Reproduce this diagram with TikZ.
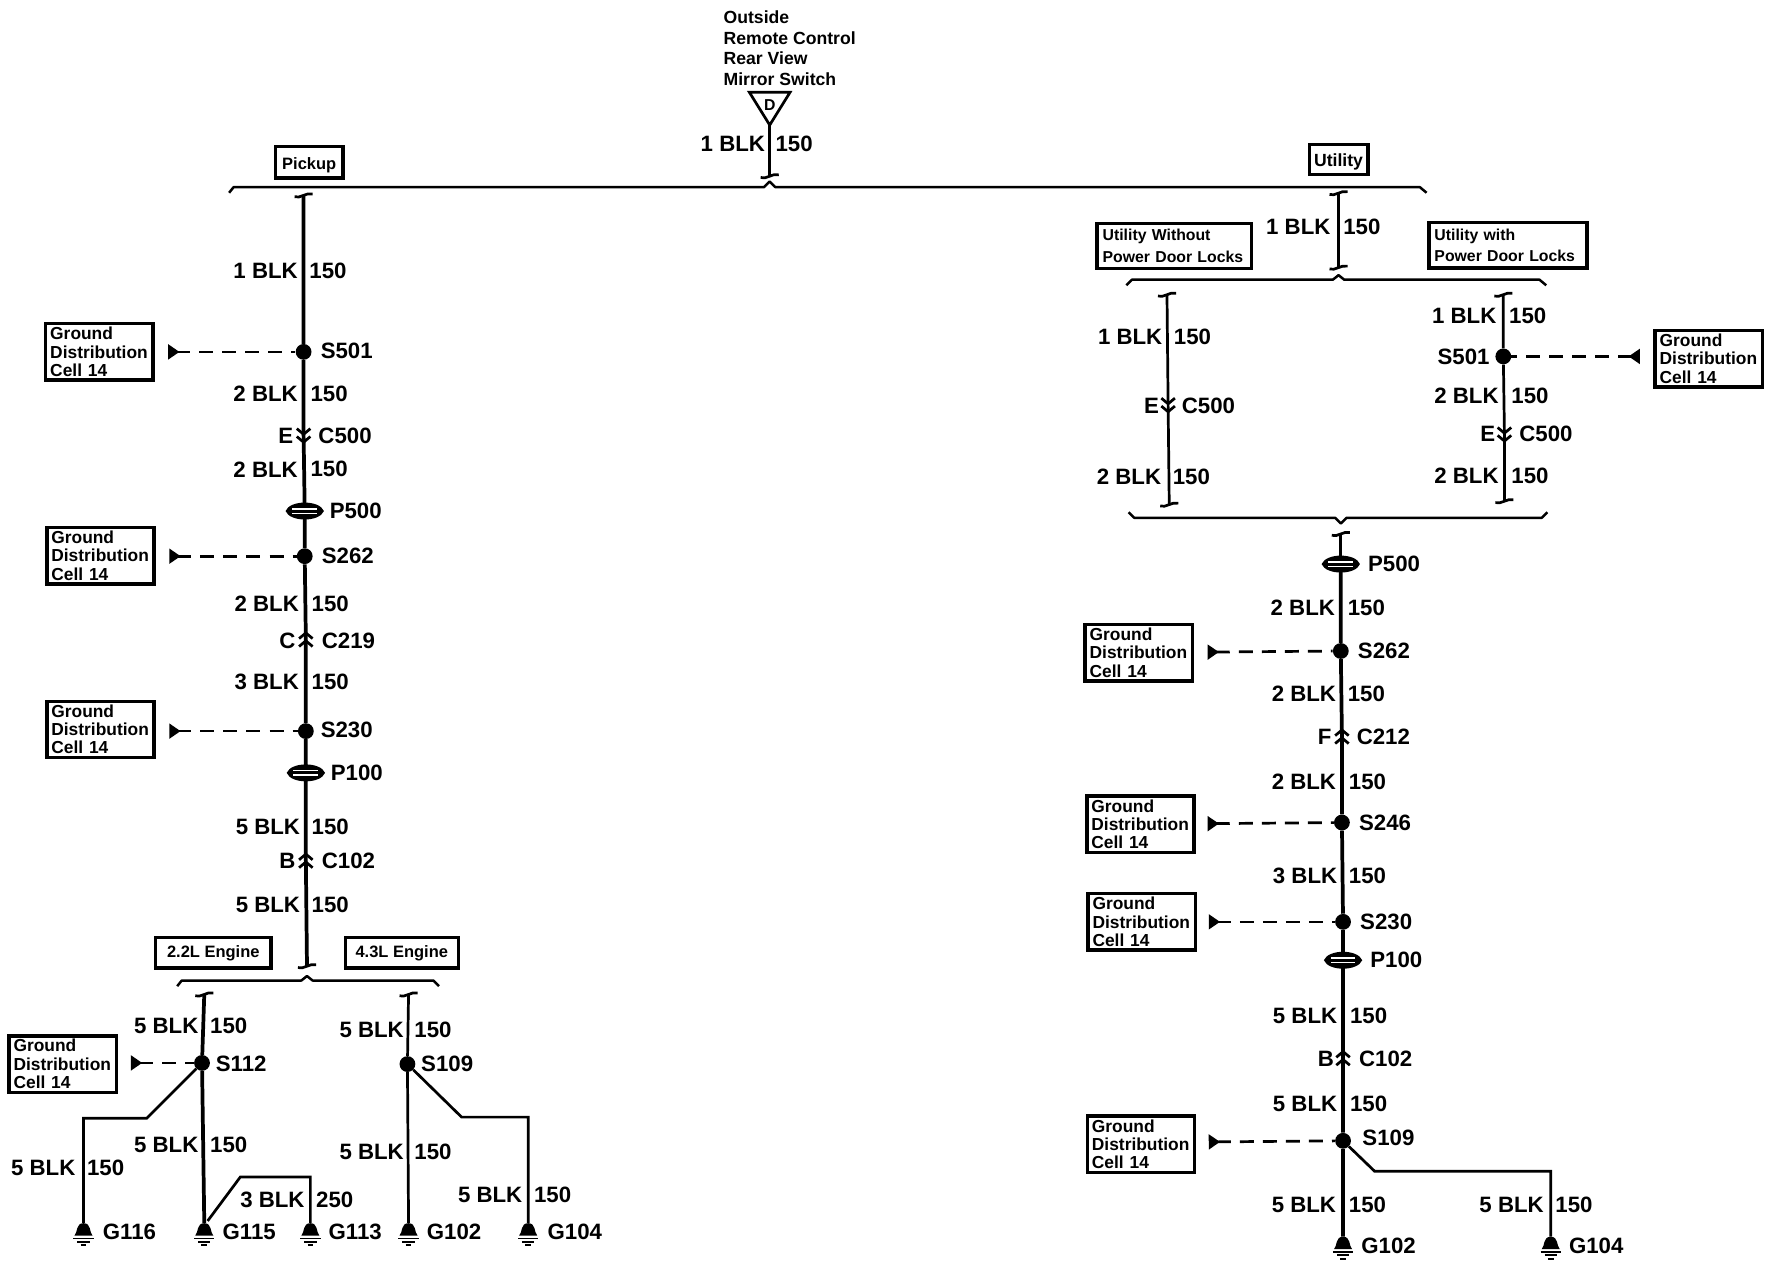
\documentclass[tikz,border=0pt]{standalone}
\usepackage{fontspec}
\setmainfont{Liberation Sans}
\usetikzlibrary{arrows.meta}
\tikzset{
wire/.style={line width=2.4pt},
trunk/.style={line width=3.3pt},
bus/.style={line width=2.2pt,line join=round},
rlab/.style={anchor=east,inner sep=0pt,font=\fontsize{19.7}{22}\selectfont\bfseries},
llab/.style={anchor=west,inner sep=0pt,font=\fontsize{19.7}{22}\selectfont\bfseries},
splice/.style={circle,fill=black,minimum size=14pt,inner sep=0pt},
tagbox/.style={draw,line width=3pt,inner sep=0pt,font=\fontsize{14.6}{16}\selectfont\bfseries},
gndbox/.style={draw,line width=3pt,inner xsep=4pt,inner ysep=0pt,minimum height=50pt,text width=87pt,align=left,font=\fontsize{15.4}{16.2}\selectfont\bfseries},
lockbox/.style={draw,line width=3pt,inner xsep=4pt,inner ysep=0pt,minimum height=40pt,align=left,font=\fontsize{14}{19}\selectfont\bfseries},
gndlink/.style={line width=2.4pt,dash pattern=on 12.4pt off 8pt,{Triangle[reversed,length=10pt,width=13pt]}-}
}
\newcommand{\hookcap}[1]{\draw[wire] ([shift={(-8,1.5)}]#1) .. controls ([shift={(-3,3.5)}]#1) and ([shift={(2,-2.5)}]#1) .. ([shift={(8,-1)}]#1);}
\newcommand{\chevdn}[1]{\draw[wire] ([shift={(-6,-6)}]#1) -- ([shift={(0,-1)}]#1) -- ([shift={(6,-6)}]#1);\draw[wire] ([shift={(-6,1)}]#1) -- ([shift={(0,6)}]#1) -- ([shift={(6,1)}]#1);}
\newcommand{\chevup}[1]{\draw[wire] ([shift={(-6,6)}]#1) -- ([shift={(0,1)}]#1) -- ([shift={(6,6)}]#1);\draw[wire] ([shift={(-6,-1)}]#1) -- ([shift={(0,-6)}]#1) -- ([shift={(6,-1)}]#1);}
\newcommand{\pshape}[1]{\fill ([shift={(-17,0)}]#1) .. controls ([shift={(-13,-10)}]#1) and ([shift={(13,-10)}]#1) .. ([shift={(17,0)}]#1) .. controls ([shift={(13,10)}]#1) and ([shift={(-13,10)}]#1) .. ([shift={(-17,0)}]#1);\fill[white] ([shift={(-11,-2.6)}]#1) rectangle ([shift={(11,-1.3)}]#1);\fill[white] ([shift={(-11,1.3)}]#1) rectangle ([shift={(11,2.6)}]#1);}
\newcommand{\gndbell}[1]{\fill ([shift={(-8,11)}]#1) .. controls ([shift={(-5,8)}]#1) and ([shift={(-7,0)}]#1) .. ([shift={(0,0)}]#1) .. controls ([shift={(7,0)}]#1) and ([shift={(5,8)}]#1) .. ([shift={(8,11)}]#1) -- cycle;
\draw[line width=1.6pt] ([shift={(-9,13.5)}]#1) -- ([shift={(9,13.5)}]#1);\draw[line width=1.6pt] ([shift={(-5.5,16.5)}]#1) -- ([shift={(5.5,16.5)}]#1);\draw[line width=1.6pt] ([shift={(-2.5,19.5)}]#1) -- ([shift={(2.5,19.5)}]#1);}
\begin{document}
\begin{tikzpicture}[x=1pt,y=-1pt]
\useasboundingbox (0,-0.8) rectangle (1568.3,1133.3);

% switch at the top
\node[anchor=west,inner sep=0pt,align=left,font=\fontsize{15.6}{18.3}\selectfont\bfseries] (mirror) at (641,42) {Outside\\Remote Control\\Rear View\\Mirror Switch};
\coordinate (triA) at (664,81);\coordinate (triB) at (700,81);\coordinate (triC) at (682,110);\coordinate (topEnd) at (682,155);
\draw[wire,line join=miter] (triA) -- (triB) -- (triC) -- cycle;
\node[inner sep=0pt,font=\fontsize{14}{16}\selectfont\bfseries] (pinD) at (682,92) {D};
\draw[wire] (triC) -- (topEnd);\hookcap{topEnd}
\node[rlab] (t1) at (678,127) {1 BLK};\node[llab] (t2) at (687,127) {150};
\draw[bus] (203,170) -- (207,165) -- (677,165) -- (682,160) -- (687,165) -- (1258,165) -- (1264,170);
\node[tagbox,minimum width=60pt,minimum height=28pt,text height=14pt,text depth=2pt] (pickup) at (274,143) {Pickup};
\node[tagbox,minimum width=52pt,minimum height=27pt,text height=14pt,text depth=2pt,font=\fontsize{15.6}{17}\selectfont\bfseries] (utility) at (1186,140.5) {Utility};

% pickup
\coordinate (pTop) at (269,172);\coordinate (pEnd) at (272,855);
\node[splice] (ps501) at (269,311) {};\node[splice] (ps262) at (270,492) {};\node[splice] (ps230) at (271,647) {};
\coordinate (pc500) at (269,385);\coordinate (pp500) at (270,452);\coordinate (pc219) at (271,566);\coordinate (pp100) at (271,684);\coordinate (pc102) at (271,762);
\draw[trunk] (pTop) -- (ps501) -- (pc500) -- (pp500) -- (ps262) -- (pc219) -- (ps230) -- (pp100) -- (pc102) -- (pEnd);
\hookcap{pTop}\hookcap{pEnd}
\chevdn{pc500}\chevup{pc219}\chevup{pc102}\pshape{pp500}\pshape{pp100}
\node[rlab] (a1) at (264,239) {1 BLK};\node[llab] (a2) at (274,239) {150};
\node[llab] (a3) at (284,310) {S501};
\node[rlab] (a4) at (264,348) {2 BLK};\node[llab] (a5) at (275,348) {150};
\node[rlab] (a6) at (260,385) {E};\node[llab] (a7) at (282,385) {C500};
\node[rlab] (a8) at (264,415) {2 BLK};\node[llab] (a9) at (275,415) {150};
\node[llab] (a10) at (292,452) {P500};
\node[llab] (a11) at (285,492) {S262};
\node[rlab] (a12) at (265,534) {2 BLK};\node[llab] (a13) at (276,534) {150};
\node[rlab] (a14) at (262,567) {C};\node[llab] (a15) at (285,567) {C219};
\node[rlab] (a16) at (265,603) {3 BLK};\node[llab] (a17) at (276,603) {150};
\node[llab] (a18) at (284,646) {S230};
\node[llab] (a19) at (293,684) {P100};
\node[rlab] (a20) at (266,732) {5 BLK};\node[llab] (a21) at (276,732) {150};
\node[rlab] (a22) at (262,762) {B};\node[llab] (a23) at (285,762) {C102};
\node[rlab] (a24) at (266,801) {5 BLK};\node[llab] (a25) at (276,801) {150};
\node[gndbox] (gb1) at (88,311) {Ground\\Distribution\\Cell 14};
\node[gndbox] (gb2) at (89,491.5) {Ground\\Distribution\\Cell 14};
\node[gndbox] (gb3) at (89,645.5) {Ground\\Distribution\\Cell 14};
\coordinate (tip1) at (149,311);\coordinate (tip2) at (150,492);\coordinate (tip3) at (150,647);
\draw[gndlink] (tip1) -- (ps501);\draw[gndlink] (tip2) -- (ps262);\draw[gndlink] (tip3) -- (ps230);

% engines
\draw[bus] (157,873) -- (161,868) -- (267,868) -- (272,864) -- (277,868) -- (384,868) -- (389,873);
\node[tagbox,minimum width=102pt,minimum height=27pt] (eng22) at (189,843.5) {2.2L Engine};
\node[tagbox,minimum width=100pt,minimum height=27pt] (eng43) at (356,843.5) {4.3L Engine};
\coordinate (e22Top) at (181,880);\coordinate (e43Top) at (362,880);
\node[splice] (s112) at (179,941) {};\node[splice] (s109) at (361,942) {};
\coordinate (g116) at (74,1083);\coordinate (g115) at (181,1083);\coordinate (g113) at (275,1083);\coordinate (g102) at (362,1083);\coordinate (g104) at (468,1083);
\draw[trunk] (e22Top) -- (s112) -- (g115);
\draw[wire] (e43Top) -- (s109) -- (g102);
\draw[wire] (s112) -- (130,990) -- (74,990) -- (g116);
\draw[wire] ([shift={(3,-2)}]g115) -- (213,1042) -- (275,1042) -- (g113);
\draw[wire] (s109) -- (409,989) -- (468,989) -- (g104);
\hookcap{e22Top}\hookcap{e43Top}
\gndbell{g116}\gndbell{g115}\gndbell{g113}\gndbell{g102}\gndbell{g104}
\node[rlab] (b1) at (176,908) {5 BLK};\node[llab] (b2) at (186,908) {150};
\node[llab] (b3) at (191,942) {S112};
\node[rlab] (b4) at (176,1014) {5 BLK};\node[llab] (b5) at (186,1014) {150};
\node[rlab] (b6) at (67,1034) {5 BLK};\node[llab] (b7) at (77,1034) {150};
\node[rlab] (b8) at (270,1062) {3 BLK};\node[llab] (b9) at (280,1062) {250};
\node[rlab] (b10) at (358,912) {5 BLK};\node[llab] (b11) at (367,912) {150};
\node[llab] (b12) at (373,942) {S109};
\node[rlab] (b13) at (358,1020) {5 BLK};\node[llab] (b14) at (367,1020) {150};
\node[rlab] (b15) at (463,1058) {5 BLK};\node[llab] (b16) at (473,1058) {150};
\node[llab] (b17) at (91,1091) {G116};\node[llab] (b18) at (197,1091) {G115};\node[llab] (b19) at (291,1091) {G113};\node[llab] (b20) at (378,1091) {G102};\node[llab] (b21) at (485,1091) {G104};
\node[gndbox] (gb4) at (55.5,942) {Ground\\Distribution\\Cell 14};
\coordinate (tip4) at (116,941);
\draw[gndlink] (tip4) -- (s112);

% utility, the two door lock branches
\coordinate (uTop) at (1186,170);\coordinate (uEnd) at (1186,236);
\draw[wire] (uTop) -- (uEnd);\hookcap{uTop}\hookcap{uEnd}
\node[rlab] (c1) at (1179,200) {1 BLK};\node[llab] (c2) at (1190,200) {150};
\node[lockbox,minimum width=137pt,text width=127pt] (without) at (1040.5,217) {Utility Without\\Power Door Locks};
\node[lockbox,minimum width=140pt,text width=130pt] (withlocks) at (1336,216.5) {Utility with\\Power Door Locks};
\draw[bus] (998,252) -- (1003,247) -- (1181,247) -- (1186,243) -- (1191,247) -- (1364,247) -- (1370,252);
\coordinate (aTop) at (1034,260);\coordinate (ac500) at (1035,358);\coordinate (aEnd) at (1036,446);
\coordinate (cTop) at (1332,260);\node[splice] (us501) at (1332,315) {};\coordinate (cc500) at (1333,384);\coordinate (cEnd) at (1333,443);
\draw[wire] (aTop) -- (ac500) -- (aEnd);\draw[wire] (cTop) -- (us501) -- (cc500) -- (cEnd);
\hookcap{aTop}\hookcap{aEnd}\hookcap{cTop}\hookcap{cEnd}\chevdn{ac500}\chevdn{cc500}
\node[rlab] (c3) at (1030,298) {1 BLK};\node[llab] (c4) at (1040,298) {150};
\node[rlab] (c5) at (1027,359) {E};\node[llab] (c6) at (1047,359) {C500};
\node[rlab] (c7) at (1029,422) {2 BLK};\node[llab] (c8) at (1039,422) {150};
\node[rlab] (c9) at (1326,279) {1 BLK};\node[llab] (c10) at (1337,279) {150};
\node[rlab] (c11) at (1320,315) {S501};
\node[rlab] (c12) at (1328,350) {2 BLK};\node[llab] (c13) at (1339,350) {150};
\node[rlab] (c14) at (1325,384) {E};\node[llab] (c15) at (1346,384) {C500};
\node[rlab] (c16) at (1328,421) {2 BLK};\node[llab] (c17) at (1339,421) {150};
\node[gndbox] (gb5) at (1514,317) {Ground\\Distribution\\Cell 14};
\coordinate (tip5) at (1453,315);
\draw[gndlink] (tip5) -- (us501);
\draw[bus] (1000,453) -- (1005,458) -- (1183,458) -- (1188,463) -- (1193,458) -- (1366,458) -- (1371,453);

% utility, common run
\coordinate (mTop) at (1188,472);\coordinate (mp500) at (1188,499);\coordinate (mc212) at (1189,652);\coordinate (mp100) at (1190,850);\coordinate (mc102) at (1190,937);\coordinate (mg102) at (1190,1095);\coordinate (mg104) at (1374,1095);
\node[splice] (ms262) at (1188,576) {};\node[splice] (ms246) at (1189,728) {};\node[splice] (ms230) at (1190,816) {};\node[splice] (ms109) at (1190,1010) {};
\draw[wire] (mTop) -- (mp500);
\draw[trunk] (mp500) -- (ms262) -- (mc212) -- (ms246) -- (ms230) -- (mp100) -- (mc102) -- (ms109) -- (mg102);
\draw[wire] (ms109) -- (1218,1037) -- (1374,1037) -- (mg104);
\hookcap{mTop}\pshape{mp500}\pshape{mp100}\chevup{mc212}\chevup{mc102}\gndbell{mg102}\gndbell{mg104}
\node[llab] (d1) at (1212,499) {P500};
\node[rlab] (d2) at (1183,538) {2 BLK};\node[llab] (d3) at (1194,538) {150};
\node[llab] (d4) at (1203,576) {S262};
\node[rlab] (d5) at (1184,614) {2 BLK};\node[llab] (d6) at (1194,614) {150};
\node[rlab] (d7) at (1180,652) {F};\node[llab] (d8) at (1202,652) {C212};
\node[rlab] (d9) at (1184,692) {2 BLK};\node[llab] (d10) at (1195,692) {150};
\node[llab] (d11) at (1204,728) {S246};
\node[rlab] (d12) at (1185,775) {3 BLK};\node[llab] (d13) at (1195,775) {150};
\node[llab] (d14) at (1205,816) {S230};
\node[llab] (d15) at (1214,850) {P100};
\node[rlab] (d16) at (1185,899) {5 BLK};\node[llab] (d17) at (1196,899) {150};
\node[rlab] (d18) at (1182,937) {B};\node[llab] (d19) at (1204,937) {C102};
\node[rlab] (d20) at (1185,977) {5 BLK};\node[llab] (d21) at (1196,977) {150};
\node[llab] (d22) at (1207,1007) {S109};
\node[rlab] (d23) at (1184,1067) {5 BLK};\node[llab] (d24) at (1195,1067) {150};
\node[rlab] (d25) at (1368,1067) {5 BLK};\node[llab] (d26) at (1378,1067) {150};
\node[llab] (d27) at (1206,1103) {G102};\node[llab] (d28) at (1390,1103) {G104};
\node[gndbox] (gb6) at (1009,577.5) {Ground\\Distribution\\Cell 14};
\node[gndbox] (gb7) at (1010.5,729.5) {Ground\\Distribution\\Cell 14};
\node[gndbox] (gb8) at (1011.5,816) {Ground\\Distribution\\Cell 14};
\node[gndbox] (gb9) at (1011,1013) {Ground\\Distribution\\Cell 14};
\coordinate (tip6) at (1070,577);\coordinate (tip7) at (1070,729);\coordinate (tip8) at (1071,816);\coordinate (tip9) at (1071,1011);
\draw[gndlink] (tip6) -- (ms262);\draw[gndlink] (tip7) -- (ms246);\draw[gndlink] (tip8) -- (ms230);\draw[gndlink] (tip9) -- (ms109);
\end{tikzpicture}
\end{document}
